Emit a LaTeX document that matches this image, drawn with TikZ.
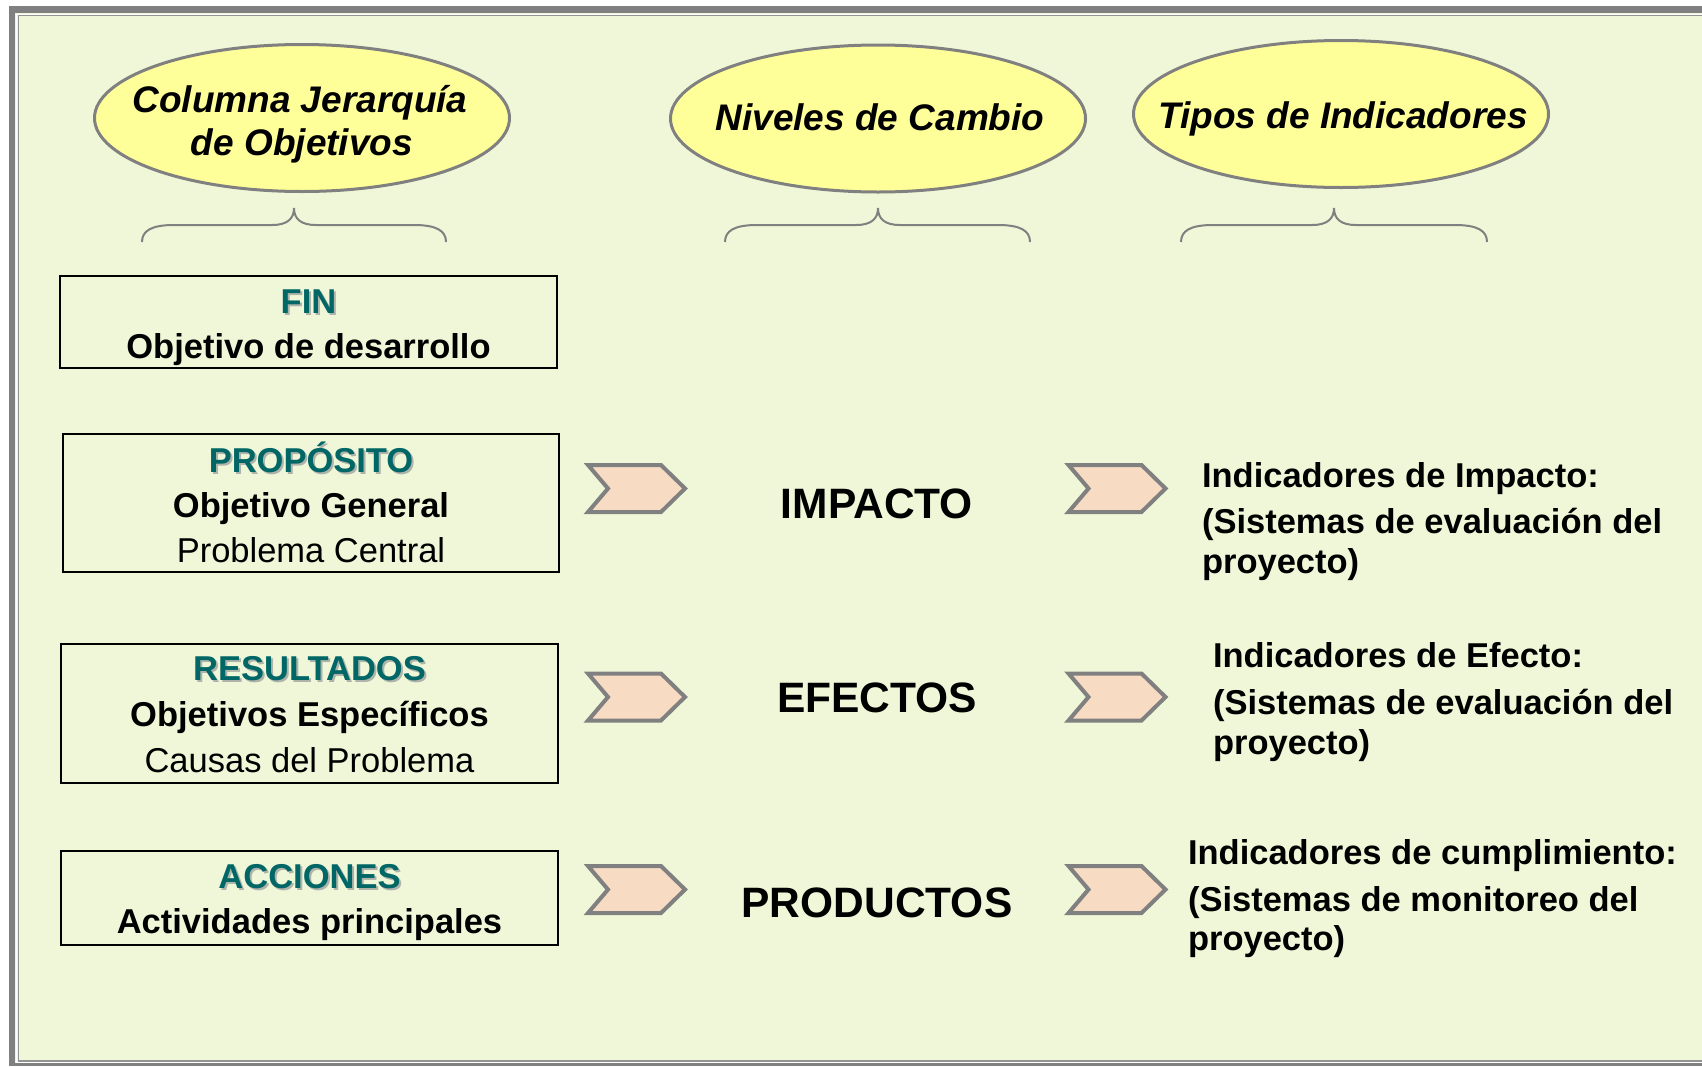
\documentclass[tikz,border=0pt]{standalone}
\usepackage{fontspec}
\setmainfont{Liberation Sans}
\usetikzlibrary{shapes.geometric}
\definecolor{bgc}{RGB}{240,247,216}
\definecolor{frameg}{RGB}{128,128,128}
\definecolor{elly}{RGB}{255,255,153}
\definecolor{tealc}{RGB}{0,102,102}
\definecolor{peach}{RGB}{247,220,195}
\definecolor{shad}{RGB}{175,180,170}
\newcommand\fsz[1]{\fontsize{#1}{#1}\selectfont}
\newcommand\bracepath[3]{% x1, cx, x2
  (#1,242) .. controls (#1,231) and (#1+9,225) .. (#1+32,225) -- (#2-22,225)
  .. controls (#2-7,225) and (#2,219) .. (#2,208)
  .. controls (#2,219) and (#2+7,225) .. (#2+22,225) -- (#3-32,225)
  .. controls (#3-9,225) and (#3,231) .. (#3,242)}
\begin{document}
\begin{tikzpicture}[x=1pt,y=-1pt,
  every node/.style={inner sep=0pt,outer sep=0pt},
  ell/.style={ellipse,draw=frameg,line width=3pt,fill=elly,minimum width=415pt,minimum height=147pt},
  ehead/.style={anchor=base,font=\fsz{37}\bfseries\itshape},
  obox/.style={draw=black,line width=2.5pt},
  ttl/.style={anchor=base,font=\fsz{34.5}\bfseries,text=tealc},
  ttlsh/.style={anchor=base,font=\fsz{34.5}\bfseries,text=shad,xshift=2pt,yshift=-2pt},
  bline/.style={anchor=base,font=\fsz{34.5}\bfseries},
  rline/.style={anchor=base,font=\fsz{34.5}},
  lvl/.style={anchor=base,font=\fsz{42.5}\bfseries},
  ind/.style={anchor=base west,font=\fsz{34.5}\bfseries},
  brc/.style={draw=frameg,line width=2pt},
  chev/.pic={\draw[draw=frameg,fill=peach,line width=4pt,line join=miter]
    (-48.5,-23.5) -- (24.5,-23.5) -- (48.5,0) -- (24.5,23.5) -- (-48.5,23.5) -- (-28.5,0) -- cycle;}
]
\useasboundingbox (0,0) rectangle (1702,1066);
% background and frame
\fill[white] (0,0) rectangle (1702,1066);
\fill[bgc] (12,9) rectangle (1702,1066);
\fill[frameg] (8.5,6) rectangle (1702,13);
\fill[frameg] (8.5,6) rectangle (15,1066);
\fill[frameg] (8.5,1063) rectangle (1702,1066);
\draw[white,line width=1pt] (1702,14) -- (16.5,14) -- (16.5,1062.5) -- (1702,1062.5);
\draw[frameg!85,line width=1.2pt] (1702,15.8) -- (18.5,15.8) -- (18.5,1061) -- (1702,1061);

% header ellipses
\node[ell] (ell1) at (302,118) {};
\node[ehead] (e1a) at (300,112) {Columna Jerarquía};
\node[ehead] (e1b) at (302,155) {de Objetivos};
\node[ell] (ell2) at (878,118.5) {};
\node[ehead] (e2) at (880,130) {Niveles de Cambio};
\node[ell] (ell3) at (1341,114) {};
\node[ehead] (e3) at (1343,128) {Tipos de Indicadores};

% braces
\draw[brc] \bracepath{142}{294}{446};
\draw[brc] \bracepath{725}{878}{1030};
\draw[brc] \bracepath{1181}{1334}{1487};

% left boxes
\node[obox,minimum width=497pt,minimum height=92pt] (box1) at (308.5,322) {};
\node[ttlsh] at (308.5,313) {FIN};
\node[ttl] (b1t) at (308.5,313) {FIN};
\node[bline] (b1a) at (308.5,358) {Objetivo de desarrollo};

\node[obox,minimum width=496pt,minimum height=138pt] (box2) at (311,503) {};
\node[ttlsh] at (311,472) {PROPÓSITO};
\node[ttl] (b2t) at (311,472) {PROPÓSITO};
\node[bline] (b2a) at (311,517) {Objetivo General};
\node[rline] (b2b) at (311,562) {Problema Central};

\node[obox,minimum width=497pt,minimum height=139pt] (box3) at (309.5,713.5) {};
\node[ttlsh] at (309.5,680) {RESULTADOS};
\node[ttl] (b3t) at (309.5,680) {RESULTADOS};
\node[bline] (b3a) at (309.5,726) {Objetivos Específicos};
\node[rline] (b3b) at (309.5,772) {Causas del Problema};

\node[obox,minimum width=497pt,minimum height=94pt] (box4) at (309.5,898) {};
\node[ttlsh] at (309.5,888) {ACCIONES};
\node[ttl] (b4t) at (309.5,888) {ACCIONES};
\node[bline] (b4a) at (309.5,933) {Actividades principales};

% chevrons
\path (636.5,488.5) coordinate (cl1) pic {chev};
\path (636.5,697) coordinate (cl2) pic {chev};
\path (636.5,889.5) coordinate (cl3) pic {chev};
\path (1117,488.5) coordinate (cr1) pic {chev};
\path (1117,697) coordinate (cr2) pic {chev};
\path (1117,889.5) coordinate (cr3) pic {chev};

% levels
\node[lvl] (lv1) at (877,518) {IMPACTO};
\node[lvl] (lv2) at (877,712) {EFECTOS};
\node[lvl] (lv3) at (877,917) {PRODUCTOS};

% indicators
\node[ind] (i1a) at (1202,487) {Indicadores de Impacto:};
\node[ind] (i1b) at (1202,533) {(Sistemas de evaluación del};
\node[ind] (i1c) at (1202,573) {proyecto)};
\node[ind] (i2a) at (1213,667) {Indicadores de Efecto:};
\node[ind] (i2b) at (1213,714) {(Sistemas de evaluación del};
\node[ind] (i2c) at (1213,754) {proyecto)};
\node[ind] (i3a) at (1188,864) {Indicadores de cumplimiento:};
\node[ind] (i3b) at (1188,911) {(Sistemas de monitoreo del};
\node[ind] (i3c) at (1188,950) {proyecto)};
\end{tikzpicture}
\end{document}
